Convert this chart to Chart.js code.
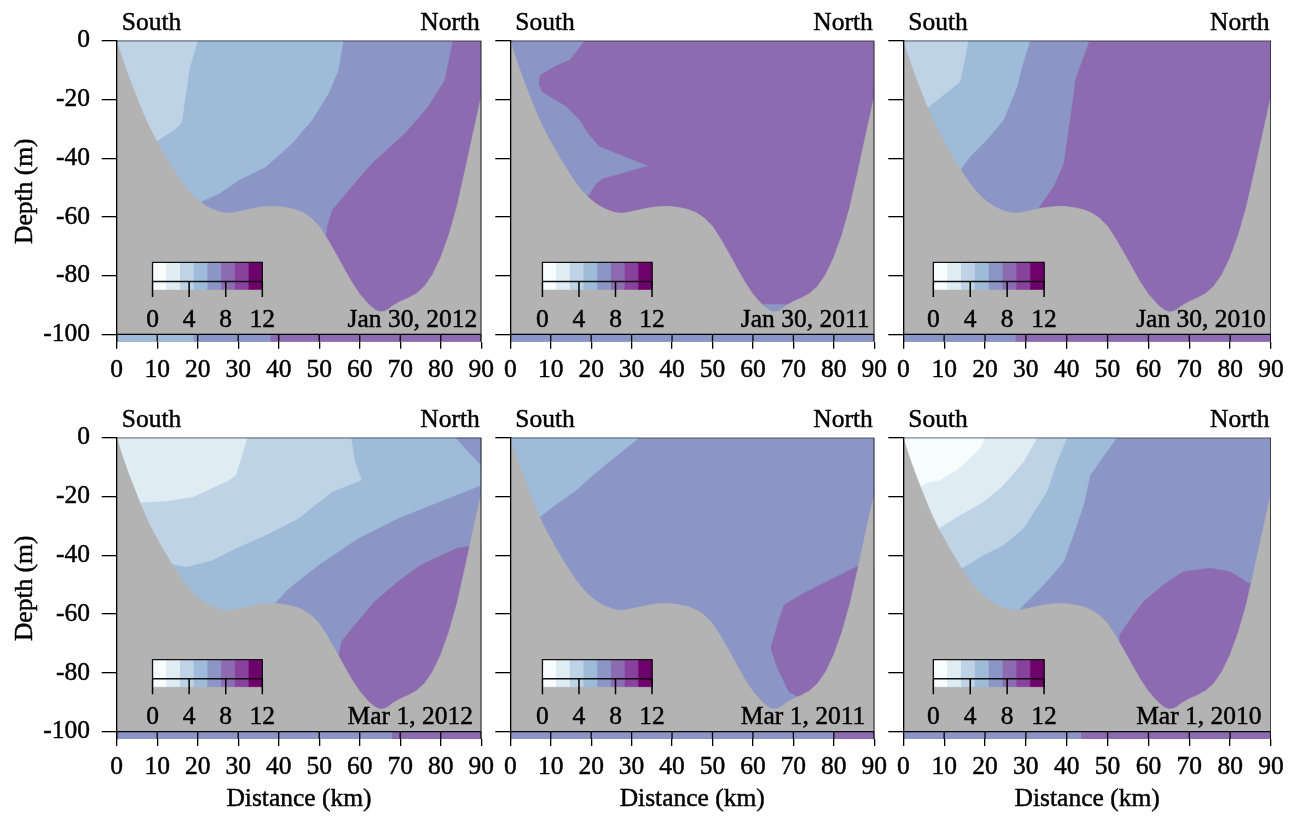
<!DOCTYPE html>
<html><head><meta charset="utf-8">
<script src="https://cdn.jsdelivr.net/npm/chart.js@4.4.0/dist/chart.umd.min.js"></script>
<style>
html,body{margin:0;padding:0;background:#fff;}
#wrap{position:relative;width:1297px;height:818px;overflow:hidden;background:#fff;}
canvas{position:absolute;}
</style></head><body><div id="wrap"></div>
<script>
// ---------------- data ----------------
const xTicks = [0,10,20,30,40,50,60,70,80,90];
const yTicks = [0,-20,-40,-60,-80,-100];
const cbarTicks = [0,4,8,12];
const cbarLevels = [0,1.5,3,4.5,6,7.5,9,10.5,12];

// bottom profile (distance km, depth m)
const bathymetry = [[0,0],[1,-4.5],[2,-8.6],[3,-12.4],[4,-16],[5,-19.5],[6,-23],[7,-26.2],[8,-29.2],[9,-31.9],[10,-34.4],[11,-36.9],[12,-39.3],[13,-41.6],[14,-43.8],[15,-45.9],[16,-48],[17,-49.8],[18,-51.5],[19,-53],[20,-54.2],[21,-55.3],[22,-56.2],[23,-57],[24,-57.6],[25,-58.1],[26,-58.5],[27,-58.7],[28,-58.7],[29,-58.5],[30,-58.2],[32,-57.6],[34,-57],[36,-56.6],[38,-56.4],[40,-56.5],[42,-56.9],[44,-57.5],[46,-58.6],[48,-60.4],[50,-63.2],[52,-67.5],[54,-72.3],[56,-77.3],[58,-82.2],[60,-86.3],[62,-89.5],[63,-90.8],[64,-91.8],[65,-92.3],[66,-92.2],[67,-91.5],[68,-90.4],[70,-88.8],[72,-87.6],[74,-86.1],[76,-83.6],[78,-79.6],[80,-73.8],[82,-66.2],[84,-56.5],[86,-44.2],[88,-31.5],[90,-19]];

// contour bands: [class index, boundary polygon (km, m)]
const jan2012Bands = [
  [5, [[-3,2],[83.1,2],[82.9,0],[80.9,-13.4],[76.8,-22.5],[71.1,-31.5],[62.9,-41.8],[57.2,-50.9],[53.1,-57.7],[51.9,-63.3],[51,-72],[-3,-72]]],
  [4, [[-3,2],[56.1,2],[55.9,0],[54.7,-10],[52.3,-17.9],[48.2,-27],[43.3,-34.9],[36.8,-42.9],[30.2,-47.4],[25.3,-52],[20.8,-54.8],[19,-62],[-3,-62]]],
  [3, [[-3,2],[20.1,2],[20,0],[18,-9],[16,-28],[14,-30.5],[9.5,-34.5],[9,-40],[-3,-40]]]
];
const jan2011Bands = [
  [5, [[-3,2],[18.5,2],[18.3,0],[14.6,-6.6],[11.4,-8.3],[7.3,-11.7],[6.9,-14.5],[7.7,-17.4],[13.8,-22.5],[17.1,-27],[19.1,-31.5],[22,-36.1],[33.8,-42.6],[22.8,-46.9],[21.2,-48.6],[19.1,-53.1],[18,-62],[-3,-62]]],
  [5, [[58,-89.8],[72,-89.8],[72,-98],[58,-98]]]
];
const jan2010Bands = [
  [5, [[-3,2],[45.7,2],[45.5,0],[42,-13.4],[41.2,-22.5],[39.2,-41.8],[36.7,-49.7],[32.7,-57.7],[32,-64],[-3,-64]]],
  [4, [[-3,2],[31.2,2],[31,0],[29,-8.9],[27.8,-15.7],[24.5,-27],[20.4,-33.8],[16.3,-39.5],[13.9,-44],[13,-50],[-3,-50]]],
  [3, [[-3,2],[16.1,2],[15.9,0],[13.9,-14],[9.8,-18.5],[6.1,-22.7],[5,-28],[-3,-28]]]
];
const mar2012Bands = [
  [6, [[93,-36.5],[87,-37],[84.1,-37.6],[75.1,-43.3],[69.4,-49],[63.7,-55.8],[58.8,-63.7],[55.5,-69.4],[55.1,-72.8],[55,-106],[93,-106]]],
  [4, [[-3,2],[93,2],[93,-16.1],[90,-16.1],[77.6,-22.9],[69.4,-27.4],[59.6,-34.2],[49.8,-43.3],[42.5,-51.2],[39.2,-56],[38,-66],[-3,-66]]],
  [3, [[-3,2],[57.9,2],[57.8,0],[58.8,-8.2],[60.4,-14.4],[53.1,-18.4],[44.9,-27.4],[36.8,-33.1],[29.4,-37.6],[23.7,-41.6],[17.2,-43.9],[13.1,-42.7],[12,-48],[-3,-48]]],
  [2, [[-3,2],[32.4,2],[32.2,0],[29.4,-12.7],[27.8,-14.4],[18.8,-20.1],[12.3,-21.5],[5.7,-22],[5,-26],[-3,-26]]],
  [5, [[83.5,2],[83.7,0],[87,-5],[90,-9.3],[93,-10],[93,2]]]
];
const mar2011Bands = [
  [6, [[93,-43],[85.7,-43.9],[79.1,-48.4],[72.6,-52.9],[67.7,-56.9],[66.1,-63.7],[64.4,-71.6],[66.1,-78.4],[68.9,-86.4],[71,-88],[71,-106],[93,-106]]],
  [4, [[-3,2],[32,2],[31.8,0],[24.4,-8.2],[19.5,-13.8],[16.3,-17.8],[10.5,-23.5],[7.3,-26.9],[6,-32],[-3,-32]]]
];
const mar2010Bands = [
  [6, [[93,-49],[84.4,-49.5],[80,-45.6],[75.1,-44.4],[68.5,-45.6],[63.6,-50.1],[58.8,-55.8],[56.3,-60.3],[53,-67.1],[52,-106],[93,-106]]],
  [4, [[-3,2],[52.4,2],[52.2,0],[45.7,-12.7],[44.1,-22.9],[41.6,-33.1],[39.2,-42.2],[34.3,-50.1],[28.6,-58],[27,-64],[-3,-64]]],
  [3, [[-3,2],[40.2,2],[40,0],[37.6,-8.2],[35.1,-18.4],[29.4,-30.8],[24.5,-36.5],[19.6,-39.9],[14.3,-44.4],[13,-50],[-3,-50]]],
  [2, [[-3,2],[32.9,2],[32.7,0],[29.4,-8.2],[24.5,-16.1],[19.6,-21.8],[13.9,-26.3],[9,-30.5],[8,-36],[-3,-36]]],
  [1, [[-3,2],[20.2,2],[20,0],[18.8,-3.6],[16.3,-7],[13.1,-10.9],[9,-14.4],[5.7,-15.3],[4.3,-16.5],[3,-20],[-3,-20]]]
];

// bottom strip segments: [from km, to km, class index]
const jan2012Strip = [[0,19,4],[19,38,5],[38,90,6]];
const jan2011Strip = [[0,90,5]];
const jan2010Strip = [[0,27.5,5],[27.5,90,6]];
const mar2012Strip = [[0,68,5],[68,90,6]];
const mar2011Strip = [[0,80,5],[80,90,6]];
const mar2010Strip = [[0,43.5,5],[43.5,90,6]];

const panelDates = ['Jan 30, 2012','Jan 30, 2011','Jan 30, 2010','Mar 1, 2012','Mar 1, 2011','Mar 1, 2010'];
const panelBase = [6,6,6,5,5,5];
const panelBands = [jan2012Bands,jan2011Bands,jan2010Bands,mar2012Bands,mar2011Bands,mar2010Bands];
const panelStrips = [jan2012Strip,jan2011Strip,jan2010Strip,mar2012Strip,mar2011Strip,mar2010Strip];

// ---------------- style / layout ----------------
const FONT = '"Liberation Serif", "Times New Roman", serif';
const FS = 25.5;
const STROKE = 0.45;
const bandColors = {1:'#f7fcfd',2:'#e0ecf4',3:'#bfd3e6',4:'#9ebcda',5:'#8c96c6',6:'#8c6bb1',7:'#88419d',8:'#6e016b'};
const landColor = '#b3b3b3';
const Y_MIN = -102.5;
const cols = [
  {left:0,   width:500, yW:116.7, padR:16,   cbarLeft:8.85},
  {left:490, width:403, yW:20.3,  padR:15.3, cbarLeft:7.95},
  {left:883, width:414, yW:20.3,  padR:26,   cbarLeft:7.35}
];
const rows = [
  {top:0,   height:395, padT:40.7, xH:53.3},
  {top:395, height:423, padT:42.7, xH:79}
];
const CB = {width:27.1, top:-75.5, mid:-82, bottom:-84.7, tickEnd:-87.3, label:-97.4, dateX:57};

const toXY = pts => pts.map(p => (p === null ? {x:NaN, y:null} : {x:p[0], y:p[1]}));
function polyDs(pts, color, order){
  return {data: toXY(pts), backgroundColor: color, borderColor: color, borderWidth: 0.6,
          fill: 'shape', pointRadius: 0, order};
}
function lineDs(pts, color, width, order){
  return {data: toXY(pts), borderColor: color, borderWidth: width, backgroundColor: color,
          fill: false, pointRadius: 0, order, spanGaps: false};
}
function txt(ctx, s, x, y){
  ctx.fillText(s, x, y);
  ctx.strokeText(s, x, y);
}

const panelLabels = {
  id: 'panelLabels',
  afterDraw(chart, args, opts){
    const {ctx, chartArea: a, scales: {x, y}} = chart;
    ctx.save();
    ctx.fillStyle = '#000';
    ctx.strokeStyle = '#000';
    ctx.lineWidth = STROKE;
    ctx.font = FS + 'px ' + FONT;
    ctx.textBaseline = 'alphabetic';
    ctx.textAlign = 'left';
    txt(ctx, 'South', a.left + 5, a.top - 11.2);
    ctx.textAlign = 'right';
    txt(ctx, 'North', a.right - 1.5, a.top - 11.2);
    ctx.textAlign = 'left';
    txt(ctx, opts.date, x.getPixelForValue(CB.dateX), y.getPixelForValue(CB.label));
    ctx.textAlign = 'center';
    cbarTicks.forEach(t => {
      txt(ctx, String(t), x.getPixelForValue(opts.cbarLeft + t / 12 * CB.width), y.getPixelForValue(CB.label));
    });
    // axis titles
    ctx.textBaseline = 'middle';
    if (opts.xTitle) {
      txt(ctx, opts.xTitle, (a.left + a.right) / 2, chart.height - 18.3);
    }
    if (opts.yTitle) {
      ctx.save();
      ctx.translate(24.8, (a.top + a.bottom) / 2);
      ctx.rotate(-Math.PI / 2);
      txt(ctx, opts.yTitle, 0, 0);
      ctx.restore();
    }
    ctx.restore();
  }
};

const wrap = document.getElementById('wrap');
for (let p = 0; p < 6; p++){
  const col = cols[p % 3], row = rows[Math.floor(p / 3)];
  const cv = document.createElement('canvas');
  cv.width = col.width; cv.height = row.height;
  cv.style.left = col.left + 'px'; cv.style.top = row.top + 'px';
  cv.style.width = col.width + 'px'; cv.style.height = row.height + 'px';
  wrap.appendChild(cv);

  const ds = [];
  let order = 1000;
  ds.push(polyDs([[-5,3],[95,3],[95,-110],[-5,-110]], bandColors[panelBase[p]], order--));
  panelBands[p].forEach(([c, pts]) => ds.push(polyDs(pts, bandColors[c], order--)));
  ds.push(polyDs([[-5,6],[-5,4]].concat(bathymetry, [[92,-10],[95,-10],[95,-110],[-5,-110]]), landColor, order--));
  panelStrips[p].forEach(([a, b, c]) => ds.push(polyDs([[a,-100],[b,-100],[b,Y_MIN-1],[a,Y_MIN-1]], bandColors[c], order--)));
  // colour bar cells
  const cl = col.cbarLeft;
  const cx = v => cl + v / 12 * CB.width;
  for (let i = 0; i < cbarLevels.length - 1; i++){
    ds.push(polyDs([[cx(cbarLevels[i]),CB.top],[cx(cbarLevels[i+1]),CB.top],[cx(cbarLevels[i+1]),CB.bottom],[cx(cbarLevels[i]),CB.bottom]], bandColors[i+1], order--));
  }
  ds.push(lineDs([[cx(0),CB.mid],[cx(0),CB.top],[cx(12),CB.top],[cx(12),CB.mid],[cx(0),CB.mid]], '#111', 1.3, order--));
  const cbt = [];
  cbarTicks.forEach(t => { cbt.push([cx(t),CB.mid],[cx(t),CB.tickEnd], null); });
  ds.push(lineDs(cbt, '#000', 1.5, order--));
  // frame lines
  ds.push(lineDs([[0,0],[90,0]], '#000', 1.3, order--));
  ds.push(lineDs([[0,-100],[90,-100]], '#000', 1.3, order--));
  ds.push(lineDs([[90,0],[90,Y_MIN]], '#333', 1, order--));
  const st = [];
  xTicks.forEach(t => { st.push([t,-100],[t,Y_MIN], null); });
  ds.push(lineDs(st, '#000', 1.3, order--));

  const isLeft = (p % 3) === 0, isBottom = p >= 3;
  new Chart(cv, {
    type: 'line',
    data: {datasets: ds},
    options: {
      responsive: false, animation: false, devicePixelRatio: 1, events: [],
      layout: {padding: {top: row.padT, right: col.padR, left: 0, bottom: 0}},
      plugins: {legend: {display: false}, tooltip: {enabled: false},
                panelLabels: {date: panelDates[p], cbarLeft: col.cbarLeft,
                              xTitle: isBottom ? 'Distance (km)' : '', yTitle: isLeft ? 'Depth (m)' : ''}},
      scales: {
        x: {type: 'linear', min: 0, max: 90,
            afterBuildTicks: s => { s.ticks = xTicks.map(v => ({value: v})); },
            afterFit: s => { s.height = row.xH; },
            grid: {display: true, z: 1, drawOnChartArea: false, drawTicks: true, tickLength: 7, color: '#000', lineWidth: 1.3},
            border: {display: false},
            ticks: {z: 1, autoSkip: false, maxRotation: 0, minRotation: 0, padding: 6, color: '#000',
                    textStrokeColor: '#000', textStrokeWidth: STROKE, font: {family: FONT, size: FS}},
            title: {display: false}},
        y: {type: 'linear', min: Y_MIN, max: 0,
            afterBuildTicks: s => { s.ticks = yTicks.map(v => ({value: v})); },
            afterFit: s => { s.width = col.yW; },
            grid: {display: true, z: 1, drawOnChartArea: false, drawTicks: true, tickLength: 15, color: '#000', lineWidth: 1.3},
            border: {display: true, z: 1, color: '#000', width: 1.3},
            ticks: {z: 1, display: isLeft, padding: 11.7, color: '#000',
                    textStrokeColor: '#000', textStrokeWidth: STROKE, font: {family: FONT, size: FS}},
            title: {display: false}}
      }
    },
    plugins: [panelLabels]
  });
}
</script></body></html>
